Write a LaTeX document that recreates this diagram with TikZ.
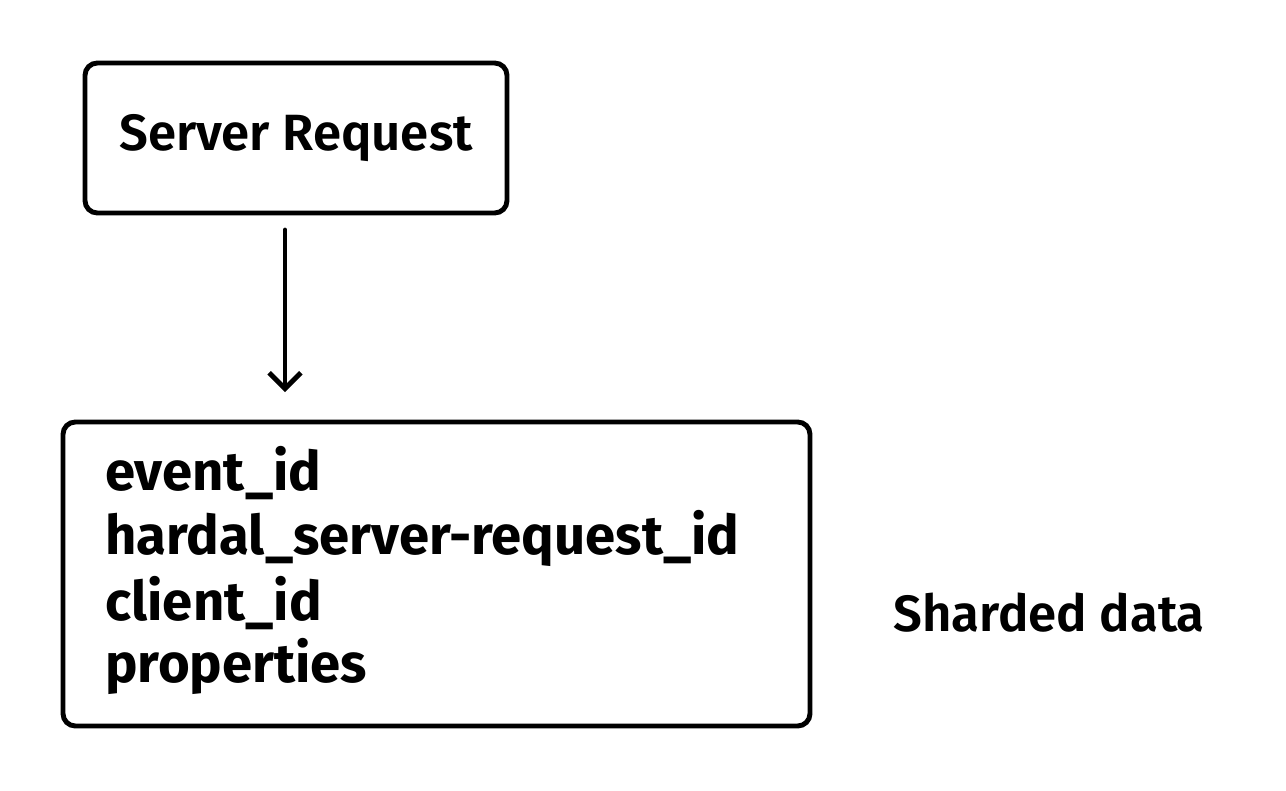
\documentclass[tikz,border=0pt]{standalone}
\usepackage{fontspec}
\setmainfont{Fira Sans}
\usetikzlibrary{positioning,arrows.meta}

\begin{document}
\begin{tikzpicture}[x=0.02cm,y=-0.02cm]
% Styles
\tikzset{
  sketchbox/.style={draw,line width=2.8pt,rounded corners=7pt},
  fieldtext/.style={anchor=west,inner sep=0pt,font=\fontsize{31}{34}\selectfont\bfseries},
  labeltext/.style={font=\fontsize{29}{32}\selectfont\fontspec{Fira Sans SemiBold}}
}
\useasboundingbox (0,0) rectangle (1286,791);

% Request box
\node[sketchbox,minimum width=422*0.02cm,minimum height=150*0.02cm] (request) at (296,138) {};
\node[labeltext] (requestlabel) at (296,138) {Server Request};

% Data box
\node[sketchbox,minimum width=747*0.02cm,minimum height=304*0.02cm] (data) at (436.5,574) {};
\node[fieldtext] (f1) at (105,473) {event\_id};
\node[fieldtext] (f2) at (105,538) {hardal\_server-request\_id};
\node[fieldtext] (f3) at (105,603) {client\_id};
\node[fieldtext] (f4) at (105,666) {properties};

% Side label
\node[labeltext] (sharded) at (1049,613) {Sharded data};

% Arrow
\coordinate (a1) at (285,230);
\coordinate (a2) at (285,392);
\draw[-{Straight Barb[length=9pt,width=18pt,line width=2.8pt]},line width=2.8pt,line cap=round] (a1) -- (a2);
\end{tikzpicture}
\end{document}
